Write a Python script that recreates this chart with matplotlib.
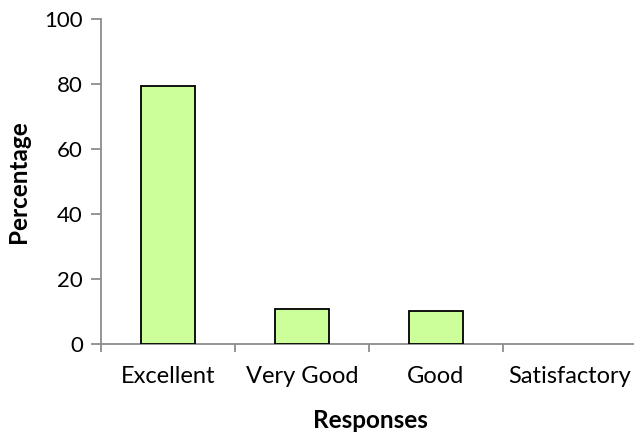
import matplotlib
matplotlib.use("Agg")
import matplotlib.pyplot as plt
import numpy as np

categories = ["Excellent", "Very Good", "Good", "Satisfactory"]
values = [79.5, 10.6, 10.0, 0.0]
yticks = [0, 20, 40, 60, 80, 100]

plt.rcParams['font.family'] = ['Lato', 'DejaVu Sans']

W, H = 634, 434
fig = plt.figure(figsize=(W / 100, H / 100), dpi=100)
ax = fig.add_axes([101 / W, (H - 343.5) / H, 536 / W, 324.2 / H])

x = np.arange(len(categories))
edges = ["black" if v > 0 else "none" for v in values]
ax.bar(x, values, width=0.40, color="#CCFF99", edgecolor=edges, linewidth=1.3, zorder=3)

ax.set_xlim(-0.5, len(categories) - 0.5)
ax.set_ylim(0, 100)
ax.set_yticks(yticks)
ax.set_yticklabels([str(v) for v in yticks], fontsize=16)

ax.set_xticks(x)
ax.set_xticklabels(categories, fontsize=17)
ax.set_xticks(np.arange(len(categories) + 1) - 0.5, minor=True)
ax.tick_params(axis="x", which="major", length=0, pad=16)
ax.tick_params(axis="x", which="minor", length=6, width=1.3, color="#8C8C8C", direction="out")
ax.tick_params(axis="y", length=7, width=1.3, color="#8C8C8C", direction="out", pad=6)

for s in ["top", "right"]:
    ax.spines[s].set_visible(False)
for s in ["left", "bottom"]:
    ax.spines[s].set_color("#8C8C8C")
    ax.spines[s].set_linewidth(1.3)

fig.text(19 / W, 1 - 182 / H, "Percentage", rotation=90, fontsize=17.5, fontweight="bold",
         ha="center", va="center")
fig.text(370 / W, 1 - 420 / H, "Responses", fontsize=17.5, fontweight="bold",
         ha="center", va="center")

fig.savefig("out.png", dpi=100)
